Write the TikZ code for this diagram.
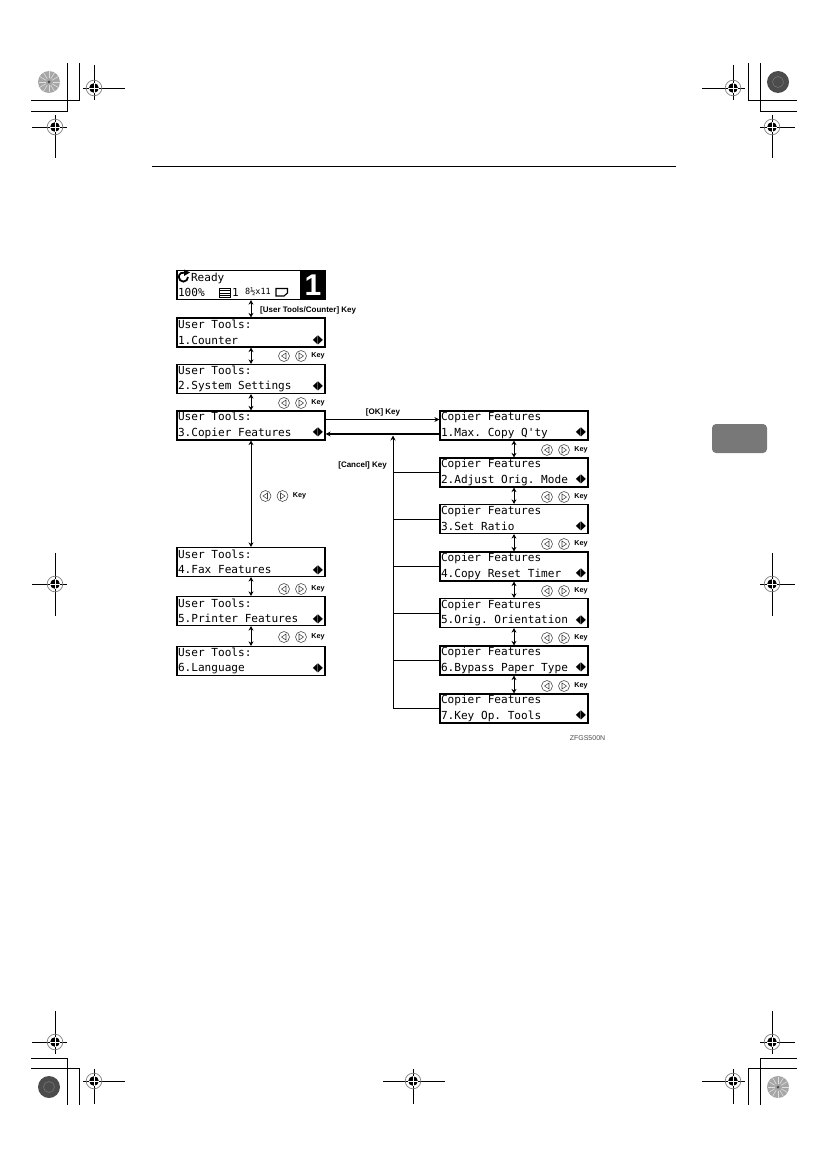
\documentclass[tikz,border=0pt]{standalone}
\usepackage{fontspec}
\usepackage{graphicx}
\usetikzlibrary{arrows.meta}
\newfontfamily\lcdfont{DejaVu Sans Mono}
\newfontfamily\symfont{DejaVu Sans}
\newfontfamily\keyfont{Liberation Sans}
\newcommand{\lrrow}[1]{\hbox to 145pt{#1\hfil\raisebox{0.5pt}{\scalebox{0.8}[1.5]{\symfont\fontsize{8}{8}\selectfont ◀\kern0.4pt▶}}}}
\newcommand{\lcdspacing}{\frenchspacing\spaceskip=6.68pt\relax}
\tikzset{
  screen/.style={draw,line width=1.2pt,minimum width=148pt,minimum height=29pt,inner xsep=1pt,inner ysep=0pt,
    text width=146pt,align=left,font=\lcdfont\fontsize{11.1}{15.5}\selectfont,execute at begin node=\lcdspacing},
  keylabel/.style={inner sep=0pt,font=\keyfont\bfseries\fontsize{7.2}{8}\selectfont},
  bracketlabel/.style={inner sep=0pt,font=\keyfont\bfseries\fontsize{8}{8}\selectfont},
  keyicon/.style={draw=black!75,line width=0.55pt,fill=white},
  stepline/.style={line width=1pt,{Stealth[length=4.5pt,width=5pt]}-{Stealth[length=4.5pt,width=5pt]}},
  busline/.style={line width=0.9pt},
  mainline/.style={line width=1.3pt,-{Stealth[length=5pt,width=5pt]}},
  trim/.style={line width=0.9pt},
  keypair/.pic={
    \draw[keyicon] (0,0) circle (5.5);
    \draw[keyicon] (2,-3)--(-2.5,0)--(2,3)--cycle;
    \draw[keyicon] (17,0) circle (5.5);
    \draw[keyicon] (15,-3)--(19.5,0)--(15,3)--cycle;
    \node[keylabel] (-key) at (34,0) {Key};
  },
  regmark/.pic={
    \draw[gray,line width=0.7pt] (0,0) circle (7.8);
    \fill[black] (0,0) circle (4.8);
    \draw[white,line width=0.8pt] (-5,0)--(5,0) (0,-5)--(0,5);
  },
  lightdisc/.pic={
    \fill[gray!70] (0,0) circle (11);
    \foreach \a in {0,30,...,330} \draw[gray!25,line width=0.6pt] (\a:3.5)--(\a:10.5);
    \fill[black!70] (0,0) circle (1.5);
  },
  darkdisc/.pic={
    \fill[black!70] (0,0) circle (11);
    \draw[black!55,line width=0.6pt] (0,0) circle (5.5);
  }
}
\begin{document}
\begin{tikzpicture}[x=1pt,y=-1pt]
  \useasboundingbox (0,0) rectangle (827,1169);
  % page furniture
  \draw[line width=1pt] (152,167)--(676,167);
  \fill[black!53,rounded corners=4pt] (712,424) rectangle (767,453);
  \draw[trim] (31,111)--(67.5,111)--(67.5,63) (31,100)--(79,100)--(79,63);
  \draw[trim] (797,100)--(748,100)--(748,63) (797,111)--(760,111)--(760,63);
  \draw[trim] (31,1058)--(67.5,1058)--(67.5,1105) (31,1068.5)--(79,1068.5)--(79,1105);
  \draw[trim] (797,1058)--(760,1058)--(760,1105) (797,1068.5)--(748,1068.5)--(748,1105);
  \pic at (49,82) {lightdisc};
  \pic at (778,82) {darkdisc};
  \pic at (49,1087) {darkdisc};
  \pic at (778,1087) {lightdisc};
  \draw[trim] (83,88)--(125,88) (94,65)--(94,100);
  \draw[trim] (32,127)--(67,127) (55,115)--(55,158);
  \draw[trim] (702,88)--(745,88) (733,65)--(733,100);
  \draw[trim] (760,127)--(795,127) (772,115)--(772,158);
  \draw[trim] (32,584)--(67,584) (55,553)--(55,616);
  \draw[trim] (760,584)--(795,584) (772,553)--(772,616);
  \draw[trim] (32,1042)--(67,1042) (55,1011)--(55,1054);
  \draw[trim] (760,1042)--(795,1042) (772,1011)--(772,1054);
  \draw[trim] (83,1081)--(125,1081) (94,1069)--(94,1104);
  \draw[trim] (702,1081)--(745,1081) (733,1069)--(733,1104);
  \draw[trim] (383,1081)--(445,1081) (413,1069)--(413,1104);
  \pic at (94,88) {regmark};
  \pic at (55,127) {regmark};
  \pic at (733,88) {regmark};
  \pic at (772,127) {regmark};
  \pic at (55,584) {regmark};
  \pic at (772,584) {regmark};
  \pic at (55,1042) {regmark};
  \pic at (772,1042) {regmark};
  \pic at (94,1081) {regmark};
  \pic at (733,1081) {regmark};
  \pic at (413,1081) {regmark};
  % left column
  \node[screen] (ready) at (251,285) {\hspace*{13pt}Ready\\100\%};
  \node[anchor=east,fill=black,text=white,minimum width=25pt,minimum height=29pt,inner sep=0pt,
    font=\keyfont\bfseries\fontsize{30}{30}\selectfont] (readynum) at (ready.east) {1};
  \draw[line width=1.8pt] (188,277) arc (0:290:4.6);
  \fill (184,269.5)--(190,272.5)--(184,276)--cycle;
  \draw[line width=0.8pt,fill=white] (219.5,288)--(230,288)--(230,297)--(219.5,297)--cycle;
  \draw[line width=1pt] (220,290.5)--(229.5,290.5) (220,293)--(229.5,293) (220,295.5)--(229.5,295.5);
  \node[inner sep=0pt,font=\lcdfont\fontsize{11}{11}\selectfont] (copies) at (235.5,292) {1};
  \node[inner sep=0pt,font=\lcdfont\fontsize{8.5}{9}\selectfont] (papersize) at (258,292) {8½x11};
  \draw[line width=1.1pt] (276,288.5)--(287.5,288.5)--(287.5,293)--(284,296)--(276,296)--cycle;
  \node[screen] (counter) at (251,332.5) {User Tools:\\\lrrow{1.Counter}};
  \node[screen] (system) at (251,379) {User Tools:\\\lrrow{2.System Settings}};
  \node[screen] (copier) at (251,425.5) {User Tools:\\\lrrow{3.Copier Features}};
  \node[screen] (fax) at (251,562) {User Tools:\\\lrrow{4.Fax Features}};
  \node[screen] (printer) at (251,611) {User Tools:\\\lrrow{5.Printer Features}};
  \node[screen] (language) at (251,661) {User Tools:\\\lrrow{6.Language}};
  % right column
  \node[screen] (maxcopy) at (514,425.5) {Copier Features\\\lrrow{1.Max. Copy Q'ty}};
  \node[screen] (adjust) at (514,472.5) {Copier Features\\\lrrow{2.Adjust Orig. Mode}};
  \node[screen] (ratio) at (514,519) {Copier Features\\\lrrow{3.Set Ratio}};
  \node[screen] (timer) at (514,566.5) {Copier Features\\\lrrow{4.Copy Reset Timer}};
  \node[screen] (orient) at (514,613) {Copier Features\\\lrrow{5.Orig. Orientation}};
  \node[screen] (bypass) at (514,660.5) {Copier Features\\\lrrow{6.Bypass Paper Type}};
  \node[screen] (keyop) at (514,708.5) {Copier Features\\\lrrow{7.Key Op. Tools}};
  % up and down steps
  \draw[stepline] (ready)--(counter);
  \draw[stepline] (counter)--(system);
  \draw[stepline] (system)--(copier);
  \draw[stepline] (copier)--(fax);
  \draw[stepline] (fax)--(printer);
  \draw[stepline] (printer)--(language);
  \draw[stepline] (maxcopy)--(adjust);
  \draw[stepline] (adjust)--(ratio);
  \draw[stepline] (ratio)--(timer);
  \draw[stepline] (timer)--(orient);
  \draw[stepline] (orient)--(bypass);
  \draw[stepline] (bypass)--(keyop);
  % OK and Cancel
  \draw[mainline] ([yshift=6pt]copier.east)--([yshift=6pt]maxcopy.west);
  \draw[mainline] ([yshift=-8.5pt]maxcopy.west)--([yshift=-8.5pt]copier.east);
  \coordinate (cancelbus) at (393,435.5);
  \draw[busline,-{Stealth[length=5pt,width=5pt]}] (keyop.west) -| (cancelbus);
  \draw[line width=1.4pt] (adjust.west)--(adjust.west -| cancelbus);
  \draw[busline] (ratio.west)--(ratio.west -| cancelbus);
  \draw[line width=1.4pt] (timer.west)--(timer.west -| cancelbus);
  \draw[busline] (orient.west)--(orient.west -| cancelbus);
  \draw[busline] (bypass.west)--(bypass.west -| cancelbus);
  % key labels
  \node[bracketlabel,anchor=west] (counterkey) at (260,310.5) {[User Tools/Counter] Key};
  \node[bracketlabel] (okkey) at (383,412) {[OK] Key};
  \node[bracketlabel,anchor=east] (cancelkey) at (387,465) {[Cancel] Key};
  \pic (lk1) at (284,356) {keypair};
  \pic (lk2) at (284,403) {keypair};
  \pic (lk3) at (265.5,496) {keypair};
  \pic (lk4) at (284,589) {keypair};
  \pic (lk5) at (284,637) {keypair};
  \pic (rk1) at (547,450) {keypair};
  \pic (rk2) at (547,497) {keypair};
  \pic (rk3) at (547,544) {keypair};
  \pic (rk4) at (547,591) {keypair};
  \pic (rk5) at (547,638) {keypair};
  \pic (rk6) at (547,686) {keypair};
  \node[inner sep=0pt,text=black!70,font=\keyfont\fontsize{7}{7}\selectfont] (figcode) at (587.5,738) {ZFGS500N};
\end{tikzpicture}
\end{document}
